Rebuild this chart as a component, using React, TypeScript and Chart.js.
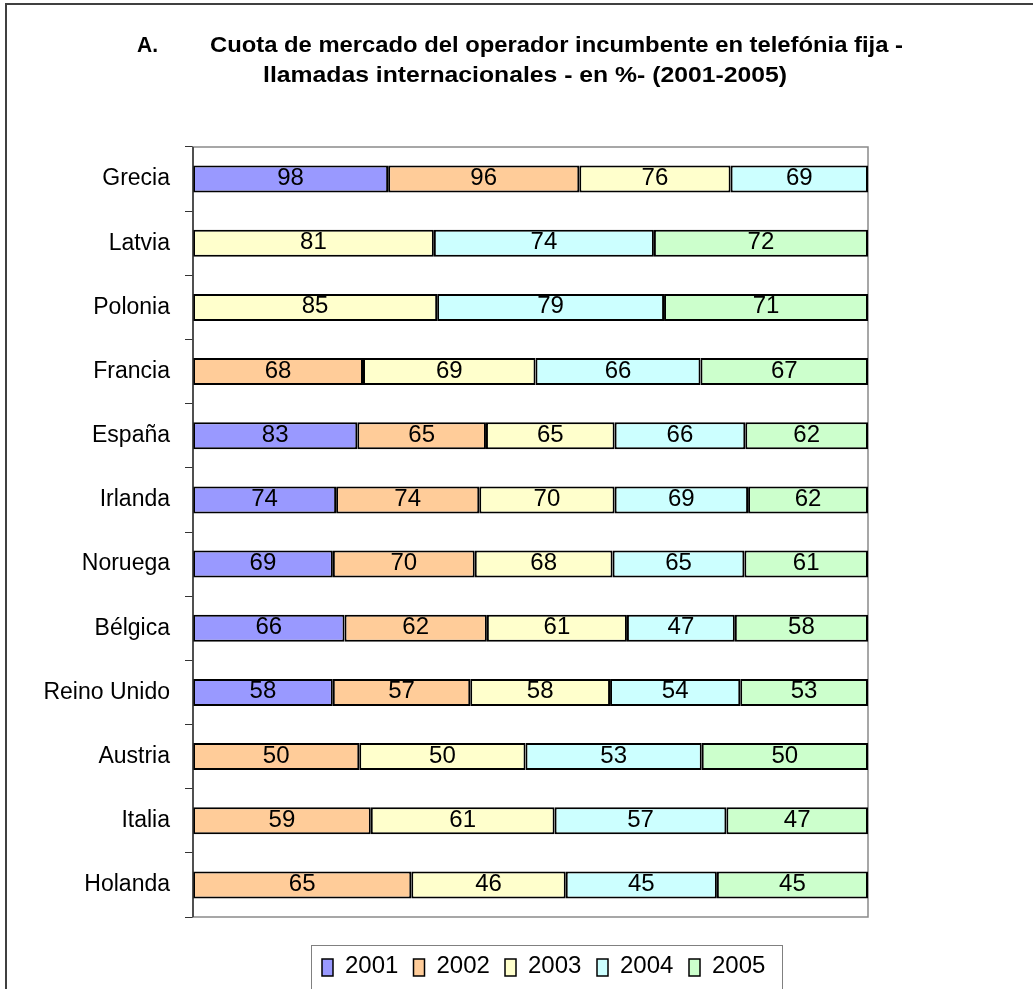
import React, { useEffect, useRef } from "react";
import { Chart, registerables } from "chart.js";

Chart.register(...registerables);

const titlePrefix = "A.";
const titleLine1 = "Cuota de mercado del operador incumbente en telefónia fija -";
const titleLine2 = "llamadas internacionales - en %- (2001-2005)";

const countries = [
  "Grecia", "Latvia", "Polonia", "Francia", "España", "Irlanda",
  "Noruega", "Bélgica", "Reino Unido", "Austria", "Italia", "Holanda",
];
const years = ["2001", "2002", "2003", "2004", "2005"];
const v2001 = [98, null, null, null, 83, 74, 69, 66, 58, null, null, null];
const v2002 = [96, null, null, 68, 65, 74, 70, 62, 57, 50, 59, 65];
const v2003 = [76, 81, 85, 69, 65, 70, 68, 61, 58, 50, 61, 46];
const v2004 = [69, 74, 79, 66, 66, 69, 65, 47, 54, 53, 57, 45];
const v2005 = [null, 72, 71, 67, 62, 62, 61, 58, 53, 50, 47, 45];
const colors = ["#9999FF", "#FFCC99", "#FFFFCC", "#CCFFFF", "#CCFFCC"];

const FONT = '"Liberation Sans", Arial, sans-serif';

export default function App() {
  const ref = useRef<HTMLCanvasElement | null>(null);

  useEffect(() => {
    document.body.style.margin = "0";
    const series = [v2001, v2002, v2003, v2004, v2005];
    const totals = countries.map((_, i) =>
      series.reduce((s, arr) => s + (arr[i] == null ? 0 : (arr[i] as number)), 0)
    );
    const datasets = series.map((arr, k) => ({
      label: years[k],
      data: arr.map((v, i) => (v == null ? null : ((v as number) / totals[i]) * 100)),
      raw: arr,
      backgroundColor: colors[k],
      borderColor: "#000000",
      borderWidth: 2,
      borderSkipped: false,
      barPercentage: 0.42,
      categoryPercentage: 1,
    }));

    const decor = {
      id: "decor",
      beforeDatasetsDraw(chart: any) {
        const { ctx, chartArea: a } = chart;
        ctx.save();
        ctx.strokeStyle = "#8a8a8a";
        ctx.lineWidth = 1.5;
        ctx.strokeRect(a.left, a.top, a.right - a.left, a.bottom - a.top);
        ctx.restore();
      },
      afterDatasetsDraw(chart: any) {
        const { ctx } = chart;
        ctx.save();
        ctx.font = `24px ${FONT}`;
        ctx.fillStyle = "#000";
        ctx.textAlign = "center";
        ctx.textBaseline = "alphabetic";
        chart.data.datasets.forEach((ds: any, di: number) => {
          const meta = chart.getDatasetMeta(di);
          meta.data.forEach((el: any, i: number) => {
            const v = ds.raw[i];
            if (v == null) return;
            const x = (el.x + el.base) / 2;
            ctx.fillText(String(v), x, el.y + 6);
          });
        });
        const a = chart.chartArea;
        ctx.strokeStyle = "#333";
        ctx.lineWidth = 1.5;
        ctx.beginPath();
        ctx.moveTo(a.left, a.top);
        ctx.lineTo(a.left, a.bottom);
        ctx.stroke();
        ctx.restore();
      },
      afterDraw(chart: any) {
        const { ctx } = chart;
        ctx.save();
        ctx.strokeStyle = "#404040";
        ctx.lineWidth = 2;
        ctx.beginPath();
        ctx.moveTo(6, 989);
        ctx.lineTo(6, 4);
        ctx.lineTo(1033, 4);
        ctx.stroke();

        ctx.fillStyle = "#000";
        ctx.textBaseline = "alphabetic";
        ctx.textAlign = "left";
        ctx.font = `bold 22px ${FONT}`;
        const drawFit = (t: string, x: number, y: number, w: number) => {
          const m = ctx.measureText(t).width;
          ctx.save();
          ctx.translate(x, y);
          ctx.scale(w / m, 1);
          ctx.fillText(t, 0, 0);
          ctx.restore();
        };
        drawFit(titlePrefix, 137, 52, 21);
        drawFit(titleLine1, 210, 52, 693);
        drawFit(titleLine2, 263, 82, 524);

        ctx.strokeStyle = "#808080";
        ctx.lineWidth = 1;
        ctx.strokeRect(311.5, 945.5, 471, 60);
        ctx.font = `24px ${FONT}`;
        const xs = [322, 413.5, 505, 597, 689];
        years.forEach((y, k) => {
          ctx.fillStyle = colors[k];
          ctx.fillRect(xs[k], 959, 11, 17);
          ctx.strokeStyle = "#000";
          ctx.lineWidth = 1.5;
          ctx.strokeRect(xs[k], 959, 11, 17);
          ctx.fillStyle = "#000";
          ctx.fillText(y, xs[k] + 23, 973);
        });
        ctx.restore();
      },
    };

    const chart = new Chart(ref.current as HTMLCanvasElement, {
      type: "bar",
      data: { labels: countries, datasets: datasets as any },
      options: {
        indexAxis: "y",
        responsive: false,
        animation: false,
        devicePixelRatio: 1,
        layout: { padding: { left: 0, top: 147, right: 165, bottom: 72 } },
        plugins: {
          legend: { display: false },
          title: { display: false },
          tooltip: { enabled: false },
        },
        scales: {
          x: { display: false, stacked: true, min: 0, max: 100 },
          y: {
            stacked: true,
            grid: {
              offset: true,
              drawOnChartArea: false,
              drawTicks: true,
              tickLength: 8,
              color: "#333",
              lineWidth: 1,
            },
            border: { display: false },
            ticks: {
              color: "#000",
              padding: 15,
              font: { size: 23, family: FONT },
            },
            afterFit: (s: any) => {
              s.width = 193;
            },
          },
        },
      },
      plugins: [decor],
    });
    return () => chart.destroy();
  }, []);

  return (
    <canvas
      ref={ref}
      width={1033}
      height={989}
      style={{ display: "block", width: 1033, height: 989 }}
    />
  );
}
